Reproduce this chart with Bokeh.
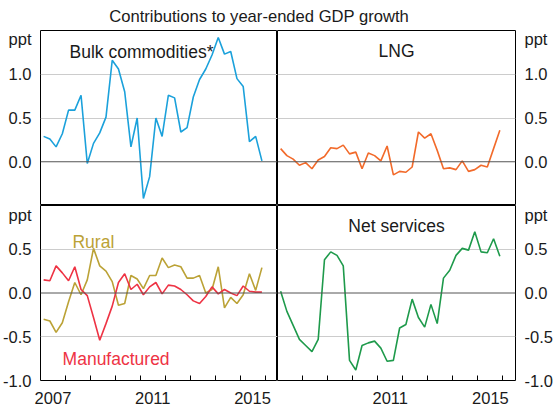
from bokeh.plotting import figure
from bokeh.layouts import gridplot, column
from bokeh.models import (Range1d, FixedTicker, Span, Label, Div,
                          CustomJSTickFormatter)
from bokeh.embed import file_html
from bokeh.resources import INLINE

# ---------------- data ----------------
quarters = [f"{y}-Q{q}" for y in range(2007, 2016) for q in range(1, 5)]

bulk = [0.29, 0.26, 0.17, 0.32, 0.59, 0.59, 0.76, -0.02, 0.21, 0.33, 0.51, 1.16,
        1.06, 0.80, 0.17, 0.50, -0.42, -0.17, 0.50, 0.29, 0.76, 0.73, 0.34, 0.39,
        0.74, 0.94, 1.06, 1.22, 1.42, 1.23, 1.26, 0.95, 0.86, 0.23, 0.29, 0.01]

lng = [0.15, 0.07, 0.03, -0.04, -0.01, -0.08, 0.02, 0.06, 0.16, 0.15, 0.19, 0.09,
       0.11, -0.08, 0.10, 0.07, 0.01, 0.18, -0.15, -0.11, -0.12, -0.06, 0.34, 0.27,
       0.32, 0.13, -0.08, -0.07, -0.09, 0.01, -0.11, -0.09, -0.04, -0.06, 0.15, 0.36]

manufactured = [0.15, 0.14, 0.31, 0.23, 0.14, 0.30, 0.04, -0.03, -0.28, -0.54, -0.35, -0.15,
                0.12, 0.22, 0.04, 0.10, -0.02, 0.07, 0.12, -0.01, 0.09, 0.08, 0.04, -0.02,
                -0.09, -0.12, -0.04, 0.07, -0.01, 0.04, 0.00, -0.03, 0.08, 0.02, 0.01, 0.01]

rural = [-0.30, -0.32, -0.45, -0.34, -0.10, 0.12, -0.02, 0.15, 0.51, 0.31, 0.25, 0.13,
         -0.14, -0.12, 0.20, 0.16, 0.05, 0.20, 0.20, 0.40, 0.29, 0.32, 0.30, 0.17,
         0.17, 0.20, 0.00, 0.04, 0.30, -0.17, -0.05, -0.12, -0.02, 0.22, 0.03, 0.29]

net_services = [0.02, -0.21, -0.37, -0.53, -0.60, -0.67, -0.53, 0.38, 0.47, 0.43, 0.31, -0.77,
                -0.88, -0.60, -0.57, -0.55, -0.63, -0.78, -0.77, -0.40, -0.36, -0.07, -0.28, -0.39,
                -0.13, -0.35, 0.17, 0.26, 0.43, 0.51, 0.49, 0.70, 0.47, 0.46, 0.62, 0.42]

x = [int(s[:4]) + (int(s[-1]) - 0.5) / 4 for s in quarters]

year_labels_left = [2007, 2011, 2015]
year_labels_right = [2011, 2015]
year_bounds = list(range(2008, 2017))
unit = "ppt"

FONT = "Liberation Sans"
TXT = "#1a1a1a"
TICK_FS = "16.5px"
LAB_FS = "17.5px"


def panel(yr, yticks, grid, side, bottom_axis, labels, frame_w, borders):
    p = figure(output_backend="svg", toolbar_location=None,
               frame_width=frame_w, frame_height=175,
               x_range=Range1d(2007, 2016.5), y_range=Range1d(*yr),
               x_axis_location="below" if bottom_axis is not None else None,
               y_axis_location=side,
               min_border_left=borders[0], min_border_right=borders[1],
               min_border_top=borders[2], min_border_bottom=borders[3])
    p.outline_line_color = "black"
    p.outline_line_width = 1
    p.background_fill_color = "white"
    p.border_fill_color = "white"
    p.xgrid.visible = False
    p.ygrid.ticker = FixedTicker(ticks=grid)
    p.ygrid.grid_line_color = "#cccccc"
    p.ygrid.grid_line_width = 1

    unit_pos = yr[1] - 0.1 * (yr[1] - yr[0]) / 2
    ya = p.yaxis[0]
    ya.ticker = FixedTicker(ticks=yticks + [unit_pos])
    ya.formatter = CustomJSTickFormatter(
        args=dict(u=unit, lim=unit_pos - 0.01),
        code="return tick > lim ? u : tick.toFixed(1);")
    ya.major_tick_line_color = None
    ya.minor_tick_line_color = None
    ya.axis_line_color = None
    ya.major_label_standoff = 3
    ya.major_label_text_font = FONT
    ya.major_label_text_font_size = TICK_FS
    ya.major_label_text_color = TXT

    if bottom_axis is not None:
        xa = p.xaxis[0]
        xa.ticker = FixedTicker(ticks=[yv + 0.5 for yv in bottom_axis], minor_ticks=year_bounds)
        xa.formatter = CustomJSTickFormatter(code="return String(Math.floor(tick));")
        xa.major_tick_line_color = None
        xa.minor_tick_line_color = "black"
        xa.minor_tick_in = 5
        xa.minor_tick_out = 0
        xa.axis_line_color = None
        xa.major_label_standoff = 5
        xa.major_label_text_font = FONT
        xa.major_label_text_font_size = TICK_FS
        xa.major_label_text_color = TXT

    p.add_layout(Span(location=0, dimension="width", line_color="#555555", line_width=1))

    for (lx, ly, txt, col) in labels:
        p.add_layout(Label(x=lx, y=ly, text=txt, text_align="center",
                           text_baseline="alphabetic", text_font=FONT,
                           text_font_size=LAB_FS, text_color=col))
    return p


tl = panel((-0.5, 1.5), [0, 0.5, 1.0], [0.5, 1.0], "left", None,
           [(2011.05, 1.26, "Bulk commodities*", TXT)], 237, (40, 0, 1, 0))
tl.line(x, bulk, line_color="#1ba1db", line_width=1.6)

tr = panel((-0.5, 1.5), [0, 0.5, 1.0], [0.5, 1.0], "right", None,
           [(2011.75, 1.27, "LNG", TXT)], 238, (0, 40, 1, 0))
tr.line(x, lng, line_color="#f26a2a", line_width=1.6)

bl = panel((-1.0, 1.0), [-1.0, -0.5, 0, 0.5], [-0.5, 0.5], "left", year_labels_left,
           [(2009.12, 0.58, "Rural", "#bba236"),
            (2010.03, -0.75, "Manufactured", "#ee3344")], 237, (40, 0, 0, 27))
bl.line(x, rural, line_color="#bba236", line_width=1.6)
bl.line(x, manufactured, line_color="#ee3344", line_width=1.6)

br = panel((-1.0, 1.0), [-1.0, -0.5, 0, 0.5], [-0.5, 0.5], "right", year_labels_right,
           [(2011.75, 0.77, "Net services", TXT)], 238, (0, 40, 0, 27))
br.line(x, net_services, line_color="#1e9a4b", line_width=1.6)

grid = gridplot([[tl, tr], [bl, br]], toolbar_location=None)

title = Div(text="Contributions to year-ended GDP growth", width=518, height=29, margin=0,
            styles={"font-size": "16.6px", "font-family": FONT, "text-align": "center",
                    "color": TXT, "line-height": "33px"})

layout = column(title, grid)

open("out.html", "w").write(file_html(layout, INLINE))
